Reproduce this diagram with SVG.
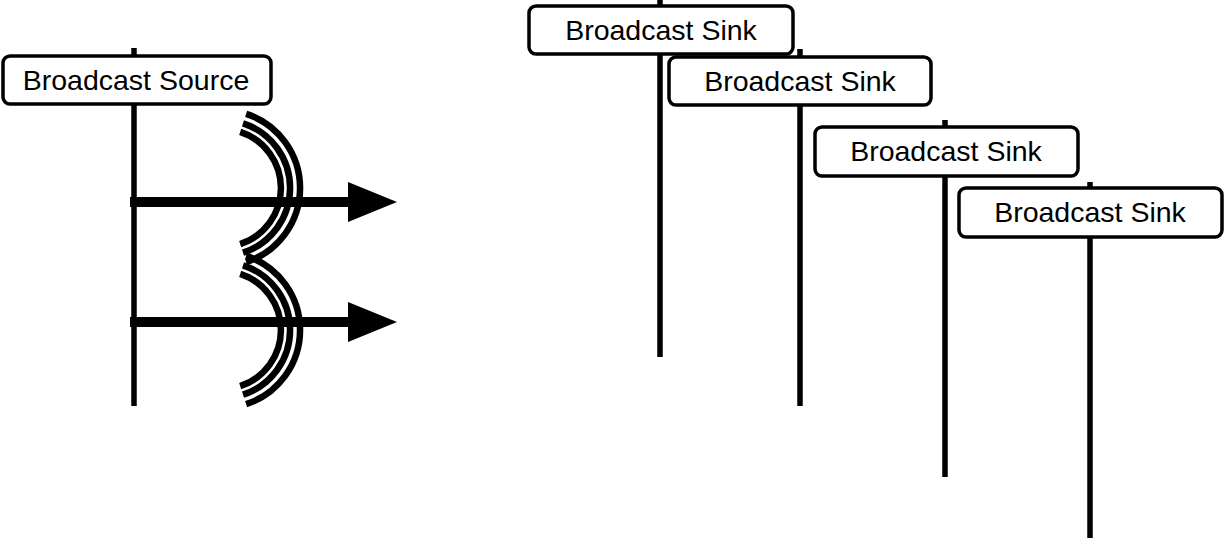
<svg xmlns="http://www.w3.org/2000/svg" width="1225" height="543" viewBox="0 0 1225 543">
<defs>
<style>
.life{stroke:#000;stroke-width:5.5;fill:none}
.box{fill:#fff;stroke:#000;stroke-width:3.5}
.lbl{font-family:"Liberation Sans",Arial,sans-serif;font-size:28.5px;fill:#000;text-anchor:middle}
.wave{fill:none;stroke:#000;stroke-width:6.5}
.shaft{stroke:#000;stroke-width:10;fill:none}
</style>
</defs>
<rect width="1225" height="543" fill="#fff"/>
<g id="waves">
<path class="wave" d="M240.2,131.9 A59,59 0 0 1 240.2,244.1"/>
<path class="wave" d="M243,123.3 A68,68 0 0 1 243,252.7"/>
<path class="wave" d="M246.1,113.8 A78,78 0 0 1 246.1,262.2"/>
<path class="wave" d="M240.2,273.9 A59,59 0 0 1 240.2,386.1"/>
<path class="wave" d="M243,265.3 A68,68 0 0 1 243,394.7"/>
<path class="wave" d="M246.1,255.8 A78,78 0 0 1 246.1,404.2"/>
</g>
<g id="connectors">
<line class="shaft" x1="130" y1="202" x2="352" y2="202"/>
<polygon points="348,182 397,202 348,222"/>
<line class="shaft" x1="130" y1="322" x2="352" y2="322"/>
<polygon points="348,302 397,322 348,342"/>
</g>
<g id="source">
<line class="life" x1="134" y1="48" x2="134" y2="406"/>
<rect class="box" x="3" y="56" width="268" height="48" rx="7"/>
<text class="lbl" x="136" y="90">Broadcast Source</text>
</g>
<g id="sink1">
<line class="life" x1="660" y1="0" x2="660" y2="357"/>
<rect class="box" x="529" y="6" width="264" height="48" rx="7"/>
<text class="lbl" x="661" y="40">Broadcast Sink</text>
</g>
<g id="sink2">
<line class="life" x1="800" y1="49" x2="800" y2="406"/>
<rect class="box" x="669" y="57" width="262" height="48" rx="7"/>
<text class="lbl" x="800" y="91">Broadcast Sink</text>
</g>
<g id="sink3">
<line class="life" x1="945" y1="120" x2="945" y2="477"/>
<rect class="box" x="815" y="127" width="263" height="49" rx="7"/>
<text class="lbl" x="946" y="161">Broadcast Sink</text>
</g>
<g id="sink4">
<line class="life" x1="1090" y1="182" x2="1090" y2="538"/>
<rect class="box" x="959" y="188" width="263" height="49" rx="7"/>
<text class="lbl" x="1090" y="222">Broadcast Sink</text>
</g>
</svg>
